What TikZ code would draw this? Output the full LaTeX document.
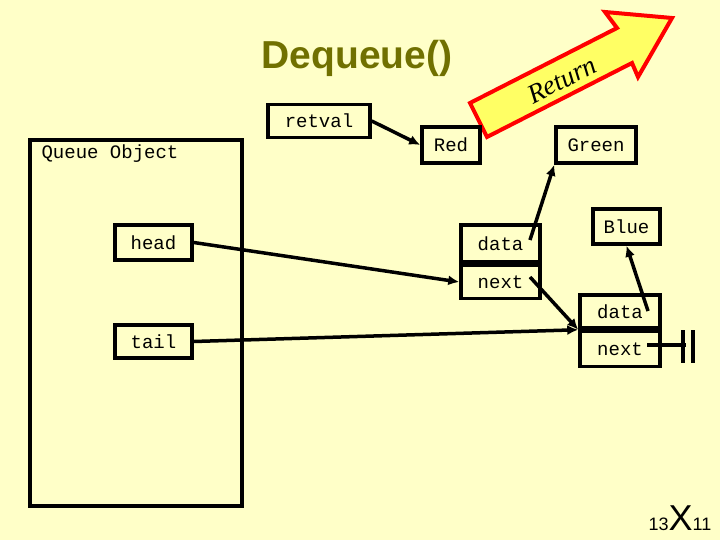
\documentclass[tikz,border=0pt]{standalone}
\usepackage{fontspec}
\setmainfont{Liberation Serif}
\setsansfont{Liberation Sans}
\setmonofont{Liberation Mono}
\usetikzlibrary{arrows.meta}
\definecolor{bg}{RGB}{255,255,200}
\definecolor{olive}{RGB}{112,112,0}
\definecolor{arrowy}{RGB}{255,255,100}
\begin{document}
\begin{tikzpicture}[x=1pt,y=-1pt,
  box/.style={draw,line width=3.5pt,inner sep=0pt,font=\ttfamily\fontsize{19}{19}\selectfont},
  lbl/.style={font=\ttfamily\fontsize{19}{19}\selectfont},
  conn/.style={line width=3.5pt,-{Latex[length=11pt,width=10pt]}}]
\fill[bg] (0,0) rectangle (720,540);
\useasboundingbox (0,0) rectangle (720,540);
\node[font=\sffamily\bfseries\fontsize{39}{39}\selectfont,text=olive] (title) at (357,58) {Dequeue()};
% return arrow
\filldraw[fill=arrowy,draw=red,line width=4pt,line join=miter]
 (470,103) -- (617,28) -- (605,12) -- (672,18) -- (638,77) -- (632,63) -- (487,137) -- cycle;
\node[rotate=27,font=\itshape\fontsize{27}{27}\selectfont] (ret) at (562,80) {Return};
\node[box,minimum width=102pt,minimum height=33pt] (retval) at (319,121) {retval};
\node[lbl] (qo) at (110,154) {Queue Object};
\draw[line width=4pt] (30,140) rectangle (242,506);
\node[box,minimum width=77pt,minimum height=35pt] (head) at (153.5,242.5) {head};
\node[box,minimum width=77pt,minimum height=33pt] (tail) at (153.5,341.5) {tail};
\node[box,minimum width=58pt,minimum height=36pt] (red) at (451,145) {Red};
\node[box,minimum width=80pt,minimum height=36pt] (green) at (596,145) {Green};
\node[box,minimum width=79pt,minimum height=37pt] (d1) at (500.5,243.5) {data};
\node[box,minimum width=79pt,minimum height=33pt,anchor=north] (n1) at (d1.south) {next};
\node[box,minimum width=67pt,minimum height=35pt] (blue) at (626.5,226.5) {Blue};
\node[box,minimum width=80pt,minimum height=33pt] (d2) at (620,311.5) {data};
\node[box,minimum width=80pt,minimum height=35pt,anchor=north] (n2) at (d2.south) {next};
\coordinate (p1) at (530,240);
\coordinate (p2) at (530,277);
\coordinate (p3) at (648,311);
\coordinate (p4) at (647,345);
\coordinate (nullA) at (686,345);
\draw[conn] (retval.east) -- (red.west);
\draw[conn] (head.east) -- (n1.west);
\draw[conn] (tail.east) -- (d2.south west);
\draw[conn] (p2) -- (d2.south west);
\draw[conn] (p1) -- (green.south west);
\draw[conn] (p3) -- (blue.south);
\draw[line width=3.5pt] (p4) -- (nullA);
\draw[line width=4pt] (683,330) -- (683,363) (693,330) -- (693,363);
\node[font=\sffamily\fontsize{18}{18}\selectfont,anchor=base] (pg) at (680,530) {13\fontsize{36}{36}\selectfont X\fontsize{18}{18}\selectfont 11};
\end{tikzpicture}
\end{document}
